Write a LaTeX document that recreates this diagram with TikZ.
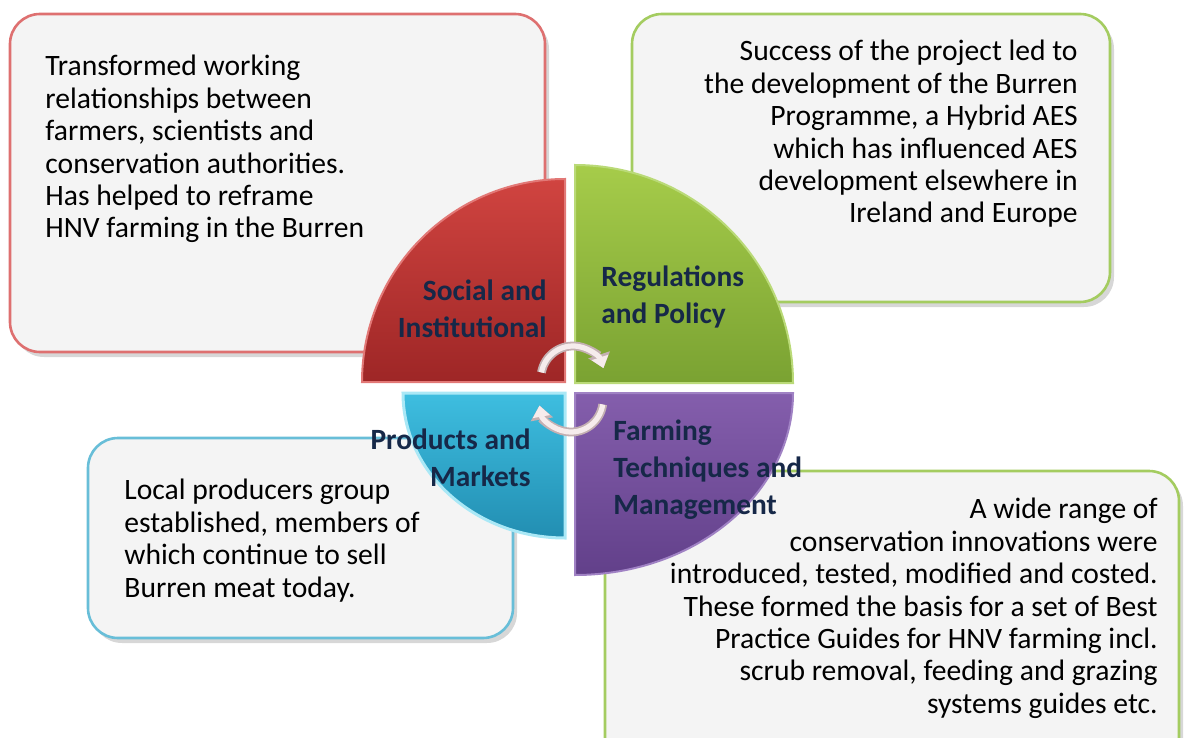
\documentclass[tikz,border=0pt]{standalone}
\usepackage{fontspec}
\setmainfont{Carlito}
\usetikzlibrary{fit, shadows, arrows.meta}

\definecolor{panelgray}{RGB}{244,244,244}
\definecolor{labelnavy}{RGB}{22,40,72}
\definecolor{redrim}{RGB}{222,112,112}
\definecolor{greenrim}{RGB}{164,204,96}
\definecolor{bluerim}{RGB}{104,190,216}
\definecolor{turnfill}{RGB}{246,236,236}
\definecolor{turnrim}{RGB}{196,176,178}

\tikzset{
  panel/.style={rounded corners=15pt, fill=panelgray, line width=1.3pt, inner sep=0pt,
    drop shadow={shadow xshift=2pt, shadow yshift=-2.5pt, opacity=0.35, fill=black!45}},
  bodytext/.style={font=\fontsize{14.8}{16.2}\selectfont, inner sep=0pt},
  slicelabel/.style={font=\fontsize{14.7}{18.5}\selectfont\bfseries, text=labelnavy, inner sep=0pt},
  turnrim/.style={draw=turnrim, line width=4.4pt, -{Triangle[length=7pt, width=11pt]}},
  turnbody/.style={draw=turnfill, line width=2.6pt, -{Triangle[length=5.6pt, width=8.4pt]}}
}

\begin{document}
\begin{tikzpicture}[x=0.5pt, y=-0.5pt]
  \useasboundingbox (0,0) rectangle (1184,738);
  \clip (0,0) rectangle (1184,738);

  \node[panel, draw=redrim, fit={(10,14) (545,352)}] (social box) {};
  \node[panel, draw=greenrim, fit={(632,14) (1110,302)}] (policy box) {};
  \node[panel, draw=bluerim, fit={(88,438) (513,638)}] (market box) {};
  \node[panel, draw=greenrim, fit={(605,471) (1179,800)}] (farming box) {};

  \node[bodytext, anchor=north west, align=left] (social text) at (45,55)
    {Transformed working\\relationships between\\farmers, scientists and\\conservation authorities.\\Has helped to reframe\\HNV farming in the Burren};
  \node[bodytext, anchor=north east, align=right] (policy text) at (1078,40)
    {Success of the project led to\\the development of the Burren\\Programme, a Hybrid AES\\which has influenced AES\\development elsewhere in\\Ireland and Europe};
  \node[bodytext, anchor=north west, align=left] (market text) at (124,479)
    {Local producers group\\established, members of\\which continue to sell\\Burren meat today.};
  \node[bodytext, anchor=north east, align=right] (farming text) at (1158,498)
    {A wide range of\\conservation innovations were\\introduced, tested, modified and costed.\\These formed the basis for a set of Best\\Practice Guides for HNV farming incl.\\scrub removal, feeding and grazing\\systems guides etc.};

  \coordinate (hub) at (570,388);
  \fill[top color={rgb,255:red,208;green,68;blue,64}, bottom color={rgb,255:red,158;green,38;blue,38}, draw={rgb,255:red,226;green,120;blue,118}, line width=1pt]
    (565,382) -- ++(-203,0) arc[start angle=180, end angle=270, radius=203] -- cycle;
  \fill[top color={rgb,255:red,166;green,204;blue,74}, bottom color={rgb,255:red,122;green,162;blue,50}, draw={rgb,255:red,186;green,218;blue,120}, line width=1pt]
    (575,383) -- ++(0,-218) arc[start angle=270, end angle=360, radius=218] -- cycle;
  \fill[top color={rgb,255:red,132;green,94;blue,172}, bottom color={rgb,255:red,98;green,64;blue,138}, draw={rgb,255:red,160;green,130;blue,196}, line width=1pt]
    (575,393) -- ++(218,0) arc[start angle=0, end angle=90, x radius=218, y radius=182] -- cycle;
  \fill[top color={rgb,255:red,62;green,190;blue,224}, bottom color={rgb,255:red,34;green,142;blue,178}, draw={rgb,255:red,170;green,232;blue,246}, line width=1.5pt]
    (565,393) -- ++(0,145) arc[start angle=90, end angle=180, x radius=162, y radius=145] -- cycle;

  \coordinate (turn top) at (573,378);
  \coordinate (turn low) at (571,400);
  \draw[turnrim] ([shift={(190:32)}]turn top) arc[start angle=190, end angle=342, radius=32];
  \draw[turnbody] ([shift={(190:32)}]turn top) arc[start angle=190, end angle=342, radius=32];
  \draw[turnrim] ([shift={(8:32)}]turn low) arc[start angle=8, end angle=170, radius=32];
  \draw[turnbody] ([shift={(8:32)}]turn low) arc[start angle=8, end angle=170, radius=32];

  \node[slicelabel, anchor=north east, align=right] (social) at (547,279) {Social and\\Institutional};
  \node[slicelabel, anchor=north west, align=left] (policy) at (601,265) {Regulations\\and Policy};
  \node[slicelabel, anchor=north east, align=right] (market) at (531,428) {Products and\\Markets};
  \node[slicelabel, anchor=north west, align=left] (farming) at (613,419) {Farming\\Techniques and\\Management};
\end{tikzpicture}
\end{document}
